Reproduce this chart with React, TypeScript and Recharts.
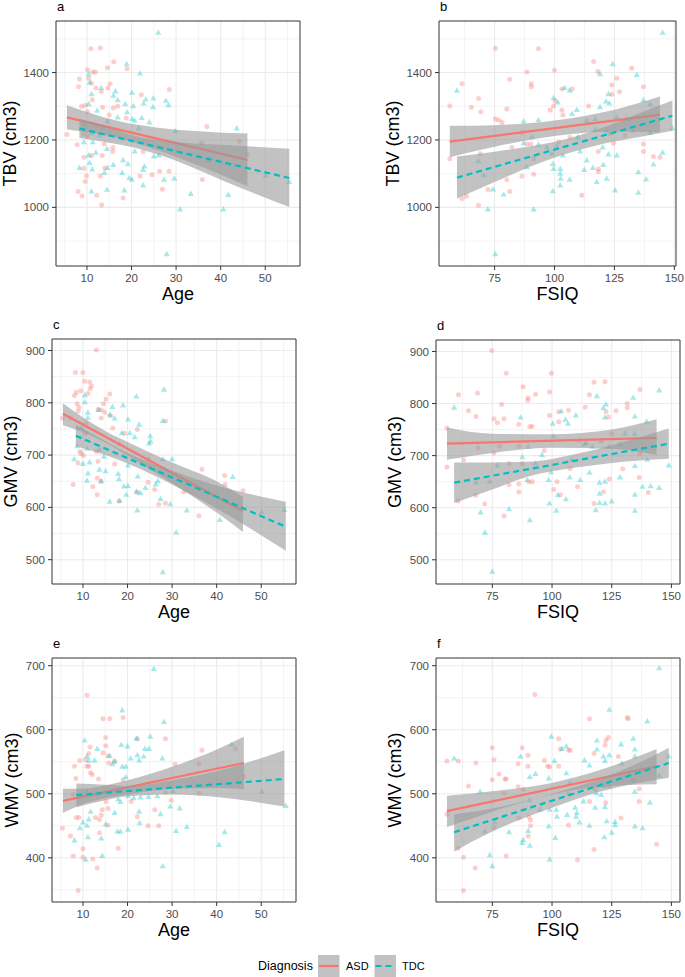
import React from 'react'
import { ComposedChart, Scatter, Line, Area, XAxis, YAxis, CartesianGrid, ReferenceArea } from 'recharts'

type Pt = [number, number]
type Band = [number, number, number]

const FONT = '"Liberation Sans", Arial, Helvetica, sans-serif'
const ASD_COLOR = '#F8766D'
const TDC_COLOR = '#00BFC4'

// ticks
const ageMajor = [10, 20, 30, 40, 50]
const ageMinor = [5, 15, 25, 35, 45, 55]
const iqMajor = [75, 100, 125, 150]
const iqMinor = [62.5, 87.5, 112.5, 137.5]
const tbvMajor = [1000, 1200, 1400]
const tbvMinor = [900, 1100, 1300, 1500]
const gmvMajor = [500, 600, 700, 800, 900]
const gmvMinor = [550, 650, 750, 850]
const wmvMajor = [400, 500, 600, 700]
const wmvMinor = [350, 450, 550, 650]

// a: TBV ~ Age
const asdA: Pt[] = [[5.5,1216],[10.9,1471],[13.0,1473],[16.0,1432],[14.6,1414],[10.1,1408],[11.3,1402],[11.9,1402],[19.0,1411],[8.3,1381],[8.1,1358],[10.4,1383],[11.0,1369],[15.2,1367],[12.0,1354],[14.7,1354],[13.2,1344],[22.2,1334],[28.5,1350],[11.2,1319],[8.8,1299],[9.6,1303],[13.5,1297],[16.9,1300],[10.1,1284],[15.9,1295],[15.0,1274],[18.8,1265],[36.9,1240],[12.2,1244],[13.6,1237],[9.3,1218],[7.8,1186],[10.1,1210],[13.9,1188],[15.8,1178],[15.8,1166],[22.6,1166],[35.7,1191],[44.2,1196],[46.0,1157],[9.3,1149],[11.0,1154],[13.4,1154],[9.3,1116],[14.0,1117],[24.6,1097],[26.3,1107],[28.4,1107],[21.9,1093],[13.0,1093],[9.9,1093],[35.9,1083],[8.0,1047],[8.9,1034],[12.2,1036],[13.3,1007],[18.1,1028],[26.9,1054],[9.6,1077]]
const tdcA: Pt[] = [[26.0,1518],[18.9,1425],[21.9,1397],[10.4,1395],[10.6,1370],[16.4,1344],[20.1,1340],[23.2,1320],[24.9,1323],[27.7,1316],[11.0,1336],[15.9,1331],[10.4,1306],[13.2,1354],[16.9,1318],[18.6,1306],[20.4,1300],[22.7,1308],[24.8,1297],[28.3,1303],[12.3,1287],[19.0,1282],[16.9,1267],[22.3,1265],[20.1,1262],[20.7,1257],[24.0,1252],[9.3,1245],[14.6,1255],[43.6,1234],[21.6,1234],[11.0,1220],[12.8,1213],[29.8,1226],[9.3,1193],[11.3,1193],[20.7,1166],[25.0,1151],[26.1,1154],[10.4,1154],[12.0,1162],[14.5,1173],[10.6,1132],[8.3,1117],[11.2,1112],[15.9,1126],[14.6,1117],[13.9,1102],[18.1,1140],[19.2,1128],[17.9,1102],[22.9,1121],[19.5,1087],[20.1,1082],[22.6,1111],[27.3,1082],[29.6,1085],[22.6,1065],[11.0,1047],[14.5,1052],[18.4,1050],[33.3,1040],[41.7,1037],[30.9,994],[40.6,994],[50.1,1093],[55.4,1075],[27.9,861],[37.2,1139]]
const asdFitA: Pt[] = [[5.5,1267],[46.0,1141]]
const tdcFitA: Pt[] = [[8.3,1234],[55.4,1087]]
const asdBandA: Band[] = [[5.5,1231,1303],[10,1223,1283],[17,1206,1256],[25,1174,1238],[35,1124,1226],[46.0,1063,1219]]
const tdcBandA: Band[] = [[8.3,1206,1262],[15,1192,1238],[20,1179,1215],[30,1138,1194],[40,1082,1186],[55.4,1001,1174]]

// b: TBV ~ FSIQ
const asdB: Pt[] = [[56.3,1301],[56.3,1144],[61.4,1367],[65.3,1297],[68.3,1323],[69.3,1284],[75.3,1472],[75.3,1262],[76.7,1259],[78.1,1252],[80.1,1292],[81.3,1380],[88.5,1402],[90.3,1367],[90.3,1358],[93.3,1471],[100.0,1407],[98.2,1289],[100.3,1316],[99.6,1301],[103.1,1351],[107.3,1351],[103.1,1289],[103.5,1274],[86.4,1223],[82.2,1178],[88.5,1188],[90.1,1188],[91.3,1144],[91.3,1098],[86.4,1092],[80.1,1082],[81.3,1047],[72.2,1053],[68.3,1006],[61.4,1026],[63.2,1033],[69.0,1159],[114.2,1301],[116.3,1433],[118.1,1403],[123.9,1363],[126.0,1383],[127.1,1343],[123.9,1336],[132.2,1413],[137.1,1358],[118.3,1166],[118.3,1114],[118.3,1106],[124.6,1190],[123.2,1218],[111.4,1036],[129.4,1213],[137.1,1188],[137.1,1166],[141.3,1151],[144.0,1149],[101.7,1194],[106.5,1208]]
const tdcB: Pt[] = [[59.3,1346],[68.3,1137],[70.4,1095],[74.3,1053],[72.2,994],[75.3,861],[78.8,1038],[87.1,1255],[93.3,1259],[99.6,1324],[101.4,1311],[104.2,1354],[106.3,1346],[107.3,1277],[109.3,1289],[117.0,1262],[119.0,1297],[121.5,1314],[122.9,1308],[122.5,1336],[124.3,1425],[119.0,1395],[134.3,1393],[137.1,1318],[139.9,1306],[145.1,1518],[149.2,1234],[139.9,1221],[87.1,1190],[90.6,1208],[93.3,1186],[96.8,1178],[98.9,1159],[99.3,1129],[99.6,1114],[101.0,1180],[102.4,1114],[102.4,1100],[102.6,1085],[102.4,1065],[103.5,1154],[106.3,1082],[99.3,1048],[91.3,994],[88.5,1119],[113.5,1139],[112.4,1111],[116.0,1117],[117.0,1230],[121.8,1227],[120.1,1178],[120.4,1126],[122.5,1157],[126.0,1154],[121.8,1085],[117.6,1075],[125.3,1050],[135.0,1104],[135.0,1043],[138.2,1083],[141.3,1127],[145.1,1162],[126.0,1267],[130.2,1262],[113.5,1257],[109.7,1208],[132.9,1227],[110.7,1166]]
const asdFitB: Pt[] = [[56.3,1195],[144.0,1275]]
const tdcFitB: Pt[] = [[59.3,1088],[149.2,1272]]
const asdBandB: Band[] = [[56.3,1149,1242],[75,1180,1244],[100,1212,1258],[125,1225,1290],[144.0,1222,1329]]
const tdcBandB: Band[] = [[59.3,1026,1151],[75,1075,1165],[90,1121,1181],[105,1159,1203],[120,1188,1236],[135,1208,1278],[149.2,1227,1317]]

// c: GMV ~ Age
const asdC: Pt[] = [[13.0,901],[8.3,858],[10.0,858],[10.4,841],[11.5,840],[11.9,832],[11.6,827],[9.5,823],[8.5,820],[8.1,814],[11.1,818],[16.0,817],[15.2,807],[14.6,798],[8.7,798],[9.1,791],[8.9,784],[13.4,787],[14.1,786],[14.9,782],[16.2,775],[14.1,771],[28.5,765],[7.2,771],[16.7,752],[22.2,749],[10.7,761],[10.6,742],[19.3,742],[9.3,707],[9.6,703],[10.1,699],[13.0,707],[13.4,688],[17.1,683],[8.9,685],[24.6,692],[36.7,673],[41.8,661],[7.8,644],[12.2,640],[13.2,624],[13.2,656],[14.0,650],[18.1,612],[22.2,629],[24.6,648],[26.1,634],[27.0,606],[28.5,608],[32.7,630],[36.0,584],[41.9,644],[45.9,632],[5.4,771]]
const tdcC: Pt[] = [[28.2,825],[22.0,812],[10.4,814],[10.4,801],[19.0,795],[16.6,792],[13.5,786],[11.1,781],[16.0,777],[17.1,770],[20.1,768],[27.9,765],[22.6,758],[9.6,752],[11.1,771],[18.7,742],[20.5,742],[21.6,734],[25.1,736],[25.2,726],[24.8,722],[18.2,721],[8.7,717],[10.9,712],[13.7,710],[14.7,697],[8.0,692],[10.0,683],[20.1,680],[11.5,686],[27.9,692],[30.0,692],[11.1,665],[10.9,651],[13.7,672],[15.1,669],[17.9,664],[18.1,654],[14.1,650],[19.2,640],[20.1,641],[19.7,624],[22.0,630],[22.9,627],[24.0,637],[26.8,650],[26.3,644],[16.0,611],[22.2,594],[18.2,612],[27.4,616],[29.6,606],[30.9,552],[33.3,594],[40.7,576],[43.6,658],[50.1,591],[55.2,595],[27.9,476],[22.3,659]]
const asdFitC: Pt[] = [[5.5,779],[45.9,593]]
const tdcFitC: Pt[] = [[8.4,737],[55.5,563]]
const asdBandC: Band[] = [[5.5,757,799],[10,744,772],[15,724,746],[20,699,725],[30,646,686],[40,590,650],[45.9,553,620]]
const tdcBandC: Band[] = [[8.4,717,758],[15,700,727],[20,684,704],[30,644,670],[40,598,642],[55.5,517,611]]

// d: GMV ~ FSIQ
const asdD: Pt[] = [[56.0,753],[56.0,678],[60.8,817],[65.0,786],[68.1,775],[68.8,820],[69.0,715],[62.9,692],[60.7,613],[68.1,624],[71.8,607],[74.7,902],[75.7,771],[77.1,763],[78.9,798],[79.9,771],[78.1,718],[75.7,705],[80.8,858],[82.0,685],[79.9,584],[82.0,644],[87.9,832],[89.9,811],[89.9,806],[90.7,756],[91.7,756],[93.1,818],[86.1,760],[86.1,718],[86.1,630],[86.1,646],[87.5,685],[90.3,650],[91.7,650],[99.0,822],[99.7,858],[99.0,777],[102.8,784],[102.8,765],[106.9,787],[100.7,635],[102.1,650],[103.5,625],[96.8,710],[107.6,675],[110.7,640],[113.9,793],[115.7,817],[117.6,841],[122.2,842],[122.6,784],[123.6,774],[124.0,655],[121.5,630],[117.6,608],[126.8,786],[131.5,800],[131.5,792],[129.6,675],[136.8,827],[136.5,658],[140.3,629],[136.8,704],[125.0,742]]
const tdcD: Pt[] = [[59.0,792],[68.1,648],[70.1,591],[71.9,552],[73.9,650],[75.0,477],[77.1,681],[82.0,597],[86.8,773],[87.5,697],[89.6,653],[90.7,576],[90.0,717],[93.1,685],[95.8,701],[98.6,653],[98.9,608],[99.6,668],[100.7,737],[100.3,761],[102.4,624],[101.8,594],[103.9,785],[105.6,769],[106.7,761],[107.4,658],[105.8,616],[108.3,692],[110.0,777],[111.5,729],[111.8,653],[113.6,722],[114.3,724],[115.7,667],[116.9,717],[118.8,814],[119.9,648],[119.9,627],[119.9,609],[118.3,595],[121.5,791],[122.6,798],[122.2,773],[120.6,728],[124.0,717],[122.2,650],[122.2,608],[125.0,612],[128.5,658],[128.5,722],[130.6,742],[134.0,811],[134.7,775],[134.7,742],[134.7,680],[134.7,625],[134.7,594],[139.6,765],[139.9,692],[137.9,640],[141.3,641],[144.9,825],[144.9,638],[148.9,681]]
const asdFitD: Pt[] = [[56.0,723],[143.8,734]]
const tdcFitD: Pt[] = [[59.0,648],[148.9,723]]
const asdBandD: Band[] = [[56.0,692,754],[75,705,742],[100,715,741],[125,713,750],[143.8,701,770]]
const tdcBandD: Band[] = [[59.0,609,687],[75,635,687],[90,660,688],[110,677,703],[125,686,720],[148.9,694,752]]

// e: WMV ~ Age
const asdE: Pt[] = [[5.4,446],[7.2,434],[7.8,403],[8.1,543],[8.4,524],[8.5,463],[9.3,552],[9.1,463],[10.0,414],[10.0,401],[8.9,349],[10.9,654],[10.6,553],[11.3,543],[10.9,543],[11.6,573],[11.3,563],[11.7,533],[12.1,530],[12.2,398],[13.2,384],[13.7,439],[13.7,460],[13.5,523],[12.8,463],[14.1,467],[14.5,617],[15.1,588],[15.1,575],[16.0,617],[14.5,564],[15.6,559],[15.8,548],[17.1,551],[15.6,451],[14.3,475],[15.6,477],[15.2,488],[17.9,415],[19.0,619],[19.0,522],[20.8,488],[22.2,586],[22.2,464],[24.6,450],[26.1,475],[27.0,450],[28.5,586],[28.5,502],[29.8,490],[30.7,546],[36.0,547],[36.0,501],[36.7,568],[44.2,570],[46.1,527],[7.8,499]]
const tdcE: Pt[] = [[25.9,695],[18.8,630],[28.2,612],[22.0,586],[25.1,589],[10.4,583],[13.2,570],[18.6,576],[20.0,574],[23.9,570],[24.8,570],[16.0,559],[17.1,550],[16.6,546],[10.9,558],[11.3,551],[12.6,552],[18.8,542],[19.6,542],[20.7,555],[22.2,560],[22.6,552],[23.6,558],[27.8,555],[19.6,526],[10.9,503],[13.0,501],[17.9,491],[18.4,487],[20.1,496],[21.4,493],[22.9,494],[24.7,495],[26.7,496],[30.2,504],[9.3,446],[10.0,455],[10.9,450],[11.3,460],[11.7,472],[11.1,432],[14.1,430],[15.1,452],[17.1,470],[17.7,441],[18.4,441],[20.1,444],[22.6,472],[22.7,454],[27.4,468],[29.6,480],[30.9,442],[33.3,448],[31.7,477],[8.1,427],[10.6,397],[14.3,403],[27.9,387],[40.5,420],[41.8,440],[43.4,577],[50.1,503],[55.5,481]]
const asdFitE: Pt[] = [[5.5,489],[46.1,548]]
const tdcFitE: Pt[] = [[8.5,498],[55.2,523]]
const asdBandE: Band[] = [[5.5,470,508],[10,484,508],[15,493,513],[20,499,521],[30,508,542],[40,509,569],[46.1,507,589]]
const tdcBandE: Band[] = [[8.5,479,516],[15,490,514],[20,496,512],[30,499,521],[40,495,535],[55.2,480,568]]

// f: WMV ~ FSIQ
const asdF: Pt[] = [[56.0,551],[56.0,468],[60.8,551],[60.7,415],[62.9,401],[62.9,349],[65.0,512],[68.1,548],[67.8,384],[75.0,572],[75.7,553],[75.0,522],[75.7,447],[77.8,531],[80.3,523],[80.8,523],[79.9,501],[80.8,403],[87.5,572],[85.8,547],[85.8,511],[86.1,462],[87.9,507],[89.9,560],[89.9,543],[90.3,464],[91.0,459],[91.0,450],[90.0,434],[92.8,655],[96.8,552],[98.2,543],[99.0,542],[102.8,543],[102.8,586],[103.5,570],[106.9,568],[107.6,568],[106.9,451],[110.7,397],[115.7,617],[115.7,488],[117.6,563],[117.6,413],[118.1,507],[122.6,583],[123.6,588],[122.2,576],[122.5,486],[127.8,558],[131.5,619],[131.9,617],[128.9,462],[136.5,508],[136.5,488],[143.8,421],[106.9,500]]
const tdcF: Pt[] = [[59.0,555],[69.9,503],[71.8,441],[73.9,404],[75.0,387],[76.1,455],[82.0,440],[86.8,558],[87.5,423],[87.9,428],[90.0,442],[90.7,419],[90.7,526],[93.1,531],[90.7,490],[94.9,475],[98.6,524],[99.0,475],[98.6,449],[99.0,397],[99.7,589],[101.0,551],[101.8,475],[102.1,464],[101.4,431],[104.2,570],[106.0,574],[106.0,532],[106.3,467],[107.6,517],[109.7,478],[110.4,470],[110.1,464],[111.5,455],[113.2,488],[113.6,552],[115.7,544],[115.7,450],[118.8,583],[118.8,569],[118.5,501],[118.1,478],[120.6,513],[120.6,498],[121.5,558],[122.2,551],[121.9,512],[122.2,479],[121.9,432],[122.9,457],[124.0,631],[124.0,560],[124.0,512],[125.0,439],[126.4,456],[126.4,451],[128.9,577],[129.2,547],[134.0,586],[134.7,569],[134.7,558],[134.0,521],[134.7,503],[134.7,449],[137.9,446],[139.9,613],[141.0,486],[144.9,696],[144.9,528],[148.9,558]]
const asdFitF: Pt[] = [[56.0,473],[143.8,543]]
const tdcFitF: Pt[] = [[59.0,440],[148.9,548]]
const asdBandF: Band[] = [[56.0,448,497],[75,472,504],[100,499,517],[120,511,537],[143.8,515,570]]
const tdcBandF: Band[] = [[59.0,410,468],[75,441,477],[100,478,500],[120,503,523],[135,516,546],[148.9,525,572]]

const toXY = (pts: Pt[]) => pts.map(([x, y]) => ({ x, y }))
const toBand = (b: Band[]) => b.map(([x, lo, hi]) => ({ x, r: [lo, hi] }))

const circle = (p: any) => <circle cx={p.cx} cy={p.cy} r={2.5} fill={ASD_COLOR} fillOpacity={0.35} />
const triangle = (p: any) => (
  <polygon
    points={`${p.cx},${p.cy - 3.4} ${p.cx - 3.1},${p.cy + 2} ${p.cx + 3.1},${p.cy + 2}`}
    fill={TDC_COLOR}
    fillOpacity={0.35}
  />
)

const panels = [
  { id: 'a', L: 56, T: 21, R: 300, B: 266, xd: [3.05, 57.8], yd: [826, 1553], xM: ageMajor, xm: ageMinor, yM: tbvMajor, ym: tbvMinor, asd: asdA, tdc: tdcA, af: asdFitA, tf: tdcFitA, ab: asdBandA, tb: tdcBandA, xt: 'Age', yt: 'TBV (cm3)', ytx: 15.5 },
  { id: 'b', L: 439, T: 21, R: 676, B: 266, xd: [51.8, 150.7], yd: [826, 1553], xM: iqMajor, xm: iqMinor, yM: tbvMajor, ym: tbvMinor, asd: asdB, tdc: tdcB, af: asdFitB, tf: tdcFitB, ab: asdBandB, tb: tdcBandB, xt: 'FSIQ', yt: 'TBV (cm3)', ytx: 398.5 },
  { id: 'c', L: 52, T: 339, R: 296, B: 584, xd: [3.05, 57.8], yd: [453.5, 922], xM: ageMajor, xm: ageMinor, yM: gmvMajor, ym: gmvMinor, asd: asdC, tdc: tdcC, af: asdFitC, tf: tdcFitC, ab: asdBandC, tb: tdcBandC, xt: 'Age', yt: 'GMV (cm3)', ytx: 17 },
  { id: 'd', L: 436, T: 340, R: 680, B: 584, xd: [51.4, 153.6], yd: [453.5, 922], xM: iqMajor, xm: iqMinor, yM: gmvMajor, ym: gmvMinor, asd: asdD, tdc: tdcD, af: asdFitD, tf: tdcFitD, ab: asdBandD, tb: tdcBandD, xt: 'FSIQ', yt: 'GMV (cm3)', ytx: 401 },
  { id: 'e', L: 52, T: 658, R: 296, B: 902, xd: [3.05, 57.8], yd: [331, 712], xM: ageMajor, xm: ageMinor, yM: wmvMajor, ym: wmvMinor, asd: asdE, tdc: tdcE, af: asdFitE, tf: tdcFitE, ab: asdBandE, tb: tdcBandE, xt: 'Age', yt: 'WMV (cm3)', ytx: 17.5 },
  { id: 'f', L: 436, T: 658, R: 680, B: 902, xd: [51.4, 153.6], yd: [331, 712], xM: iqMajor, xm: iqMinor, yM: wmvMajor, ym: wmvMinor, asd: asdF, tdc: tdcF, af: asdFitF, tf: tdcFitF, ab: asdBandF, tb: tdcBandF, xt: 'FSIQ', yt: 'WMV (cm3)', ytx: 401 },
]

const YW = 44
const XH = 26
const MT = 6
const MR = 14
const tickStyle = { fontSize: 11.5, fill: '#4D4D4D', fontFamily: FONT }

function Panel({ p }: { p: any }) {
  return (
    <div style={{ position: 'absolute', left: p.L - YW, top: p.T - MT }}>
      <ComposedChart width={p.R - p.L + YW + MR} height={p.B - p.T + MT + XH} margin={{ top: MT, right: MR, bottom: 0, left: 0 }}>
        <CartesianGrid horizontalValues={p.ym} verticalValues={p.xm} stroke="#EBEBEB" strokeWidth={0.6} />
        <CartesianGrid horizontalValues={p.yM} verticalValues={p.xM} stroke="#EBEBEB" strokeWidth={1.1} />
        <XAxis type="number" dataKey="x" domain={p.xd} allowDataOverflow ticks={p.xM} interval={0} height={XH}
          axisLine={false} tickSize={4} tickMargin={4} tickLine={{ stroke: '#333333' }} tick={tickStyle} />
        <YAxis type="number" domain={p.yd} allowDataOverflow ticks={p.yM} interval={0} width={YW}
          axisLine={false} tickSize={4} tickMargin={3} tickLine={{ stroke: '#333333' }} tick={tickStyle} />
        <Scatter data={toXY(p.asd)} dataKey="y" shape={circle} isAnimationActive={false} zIndex={10} />
        <Scatter data={toXY(p.tdc)} dataKey="y" shape={triangle} isAnimationActive={false} zIndex={11} />
        <Area data={toBand(p.ab)} dataKey="r" type="monotone" fill="#999999" fillOpacity={0.6} stroke="none"
          dot={false} activeDot={false} isAnimationActive={false} zIndex={20} />
        <Line data={toXY(p.af)} dataKey="y" type="linear" stroke={ASD_COLOR} strokeWidth={2.2}
          dot={false} activeDot={false} isAnimationActive={false} zIndex={21} />
        <Area data={toBand(p.tb)} dataKey="r" type="monotone" fill="#999999" fillOpacity={0.6} stroke="none"
          dot={false} activeDot={false} isAnimationActive={false} zIndex={22} />
        <Line data={toXY(p.tf)} dataKey="y" type="linear" stroke={TDC_COLOR} strokeWidth={2.2} strokeDasharray="6 4"
          dot={false} activeDot={false} isAnimationActive={false} zIndex={23} />
        <ReferenceArea x1={p.xd[0]} x2={p.xd[1]} y1={p.yd[0]} y2={p.yd[1]} fill="none" fillOpacity={0}
          stroke="#333333" strokeWidth={1} ifOverflow="visible" zIndex={30} />
      </ComposedChart>
    </div>
  )
}

export default function App() {
  return (
    <div style={{ position: 'absolute', left: 0, top: 0, width: 685, height: 977, overflow: 'hidden', background: '#fff' }}>
      {panels.map((p) => <Panel key={p.id} p={p} />)}
      <svg width={685} height={977} style={{ position: 'absolute', left: 0, top: 0, pointerEvents: 'none' }} fontFamily={FONT}>
        {panels.map((p) => (
          <g key={p.id}>
            <text x={p.L + 1} y={p.T - 10.5} fontSize={13} fill="#000">{p.id}</text>
            <text x={(p.L + p.R) / 2} y={p.B + 34} fontSize={18} textAnchor="middle" fill="#000">{p.xt}</text>
            <text x={p.ytx} y={(p.T + p.B) / 2} fontSize={18} textAnchor="middle" fill="#000"
              transform={`rotate(-90 ${p.ytx} ${(p.T + p.B) / 2})`}>{p.yt}</text>
          </g>
        ))}
        <text x={258} y={970} fontSize={12.5} fill="#000">Diagnosis</text>
        <rect x={318} y={955} width={21.5} height={22} fill="#999999" fillOpacity={0.6} />
        <line x1={319} y1={966} x2={338.5} y2={966} stroke={ASD_COLOR} strokeWidth={2.2} />
        <text x={346} y={969.8} fontSize={11} fill="#000">ASD</text>
        <rect x={374.5} y={955} width={21.5} height={22} fill="#999999" fillOpacity={0.6} />
        <line x1={375.5} y1={966} x2={395} y2={966} stroke={TDC_COLOR} strokeWidth={2.2} strokeDasharray="6 4" />
        <text x={402} y={969.8} fontSize={11} fill="#000">TDC</text>
      </svg>
    </div>
  )
}
